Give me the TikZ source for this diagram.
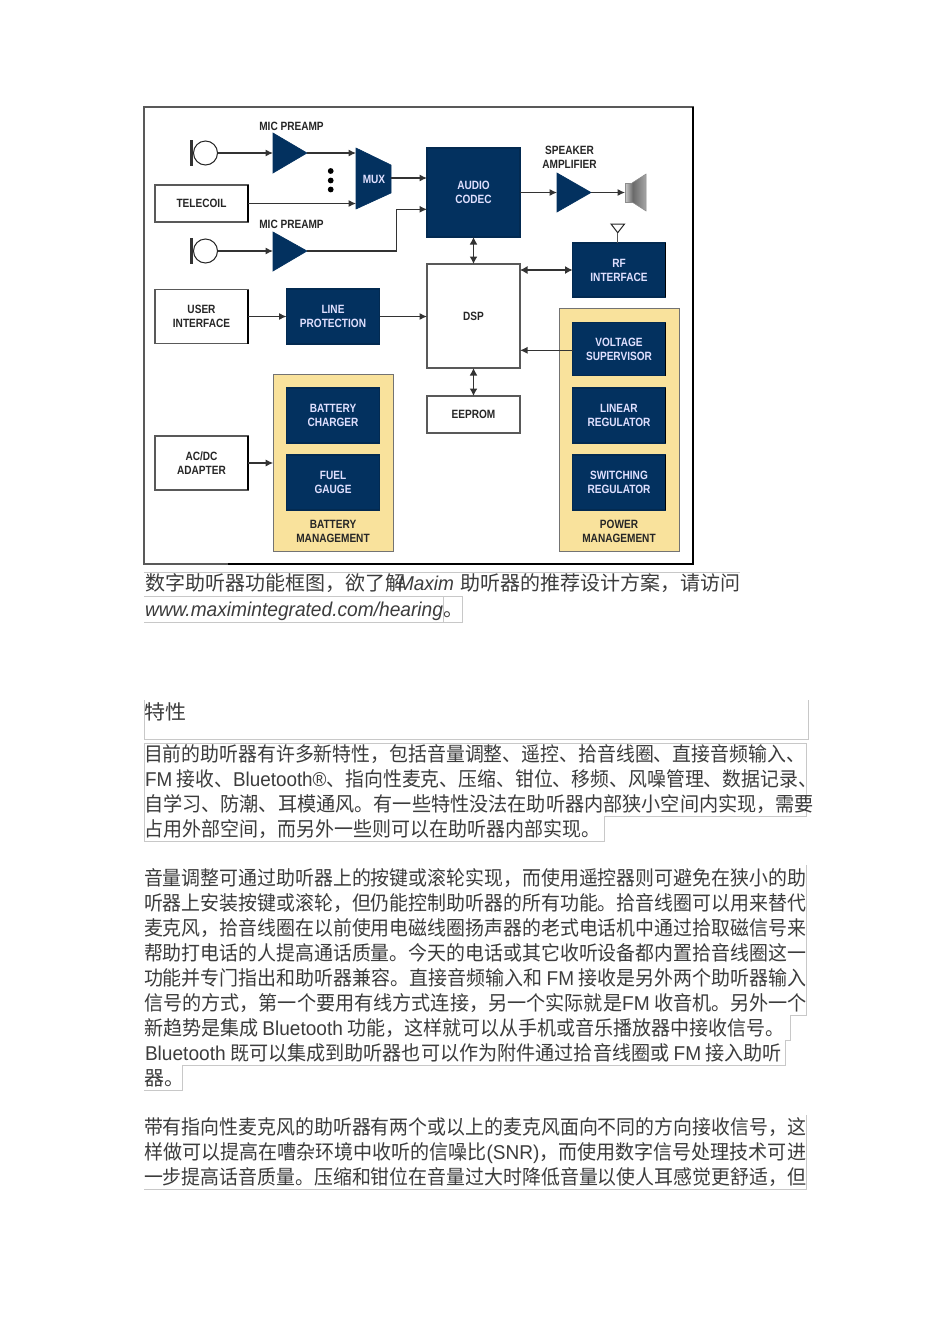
\documentclass[tikz,border=0pt]{standalone}
\usepackage{fontspec}
\usepackage{graphicx}
\usetikzlibrary{arrows.meta}
\setmainfont{Noto Sans CJK SC}
\newfontfamily\latf{Liberation Sans}
\newfontfamily\diaf[FakeStretch=0.84]{Liberation Sans}
\definecolor{navy}{HTML}{03315F}
\definecolor{panel}{HTML}{F9E29C}
\definecolor{ink}{HTML}{3C3C3C}
\definecolor{rulec}{HTML}{C8C8C8}
\newcommand\la[1]{{\latf #1}}
\newcommand\lai[1]{{\latf\itshape #1}}
\newcommand\tln[5]{\node[txt] (#1) at (#2,#3+7) {\resizebox{#4pt}{\height}{#5}};}
\tikzset{
  txt/.style={anchor=base west,inner sep=0pt,outer sep=0pt,text=ink,font=\fontsize{20}{24}\selectfont},
  bx/.style={draw=#1,line width=1.5pt,inner sep=0pt,outer sep=0pt,align=center,font=\diaf\bfseries\fontsize{12}{14}\selectfont},
  wbox/.style={bx=black!65,fill=white,text=black!85},
  nbox/.style={bx=navy!85!black,fill=navy,text=white!88!blue},
  pan/.style={draw=black!55,line width=1pt,fill=panel,inner sep=0pt,outer sep=0pt},
  amp/.style={fill=navy,draw=navy,line width=.6pt},
  lab/.style={inner sep=0pt,align=center,text=black!85,font=\diaf\bfseries\fontsize{12}{14}\selectfont},
  con/.style={draw=black!80,line width=1.1pt,-{Latex[length=7.5pt,width=7pt]}},
  dcon/.style={draw=black!80,line width=1.4pt,{Latex[length=7.5pt,width=8pt]}-{Latex[length=7.5pt,width=8pt]}},
  edge/.style={draw=black,line width=1.6pt},
  gl/.style={draw=rulec,line width=.7pt}
}
\begin{document}
\begin{tikzpicture}[x=1pt,y=-1pt]
\useasboundingbox (0,0) rectangle (950,1344);
\fill[white] (0,0) rectangle (950,1344);
% outer frame
\draw[draw=black!65,line width=1.2pt,fill=white] (144,107) rectangle (693,564);
\draw[black,line width=1.8pt] (693,107) -- (693,564) -- (228,564);
% microphones
\foreach \nm/\yy in {m1/153,m2/251}{
  \fill[black!80] (190,\yy-13) rectangle (193,\yy+13);
  \node[circle,draw=black!85,fill=white,line width=1pt,minimum size=24pt,inner sep=0pt,outer sep=0pt] (\nm) at (205.5,\yy) {};
}
% amplifiers
\coordinate (a1i) at (273,153); \coordinate (a1o) at (307,153);
\coordinate (a2i) at (273,251); \coordinate (a2o) at (307,251);
\coordinate (a3i) at (557,192.5); \coordinate (a3o) at (591,192.5);
\draw[amp] (273,133) -- (307,153) -- (273,173) -- cycle;
\draw[amp] (273,232) -- (307,251) -- (273,271) -- cycle;
\draw[amp] (557,173) -- (591,192.5) -- (557,212) -- cycle;
\node[lab] (l1) at (291.5,126.5) {MIC PREAMP};
\node[lab] (l2) at (291.5,224.5) {MIC PREAMP};
\node[lab] (l3) at (569.5,157.5) {SPEAKER\\AMPLIFIER};
% mux
\draw[amp] (356,148) -- (391,165) -- (391,193) -- (356,209) -- cycle;
\node[lab,text=white!88!blue] (mux) at (374,179.5) {MUX};
\coordinate (muxa) at (356,153); \coordinate (muxb) at (356,204); \coordinate (muxo) at (391,178);
\foreach \yy in {171,180.5,189.5}{\fill[black] (330.7,\yy) circle (2.9pt);}
% boxes
\node[wbox,minimum width=93pt,minimum height=37pt] (tele) at (201.5,203.5) {TELECOIL};
\node[wbox,minimum width=93pt,minimum height=54pt] (user) at (201.5,316.5) {USER\\INTERFACE};
\node[wbox,minimum width=93pt,minimum height=54pt] (acdc) at (201.5,463) {AC/DC\\ADAPTER};
\node[nbox,minimum width=93pt,minimum height=55pt] (line) at (333,316.5) {LINE\\PROTECTION};
\node[nbox,minimum width=93pt,minimum height=89pt] (codec) at (473.5,192.5) {AUDIO\\CODEC};
\node[wbox,minimum width=93pt,minimum height=104pt] (dsp) at (473.5,316) {DSP};
\node[wbox,minimum width=93pt,minimum height=37pt] (eeprom) at (473.5,414.5) {EEPROM};
\node[nbox,minimum width=93pt,minimum height=54pt] (rf) at (619,270) {RF\\INTERFACE};
% panels
\node[pan,minimum width=120pt,minimum height=177.5pt] (batp) at (333.2,463) {};
\node[pan,minimum width=120pt,minimum height=243.5pt] (powp) at (619,430) {};
\node[nbox,minimum width=93pt,minimum height=55pt] (chg) at (333,415.5) {BATTERY\\CHARGER};
\node[nbox,minimum width=93pt,minimum height=55pt] (fuel) at (333,482.5) {FUEL\\GAUGE};
\node[nbox,minimum width=93pt,minimum height=53pt] (volt) at (619,349.2) {VOLTAGE\\SUPERVISOR};
\node[nbox,minimum width=93pt,minimum height=55pt] (lin) at (619,415.5) {LINEAR\\REGULATOR};
\node[nbox,minimum width=93pt,minimum height=55pt] (sw) at (619,482.5) {SWITCHING\\REGULATOR};
\node[lab] (bm) at (333,531.5) {BATTERY\\MANAGEMENT};
\node[lab] (pm) at (619,531.5) {POWER\\MANAGEMENT};
\foreach \nm in {tele,user,acdc,rf,volt,lin,sw}{
  \draw[edge] (\nm.north east) -- (\nm.south east);
}
% speaker
\coordinate (spk) at (625,192.5);
\shade[left color=black!20,right color=black!55,draw=black!45,line width=.5pt] (625,183) rectangle (632,202);
\shade[left color=black!60,right color=black!35,draw=black!45,line width=.5pt] (632,183) -- (646,174) -- (646,211) -- (632,202) -- cycle;
% antenna
\coordinate (ant) at (617.7,232.7);
\draw[draw=black!85,line width=1pt,fill=white] (611,224) -- (624.5,224) -- (ant) -- cycle;
\draw[draw=black!65,line width=1.4pt] (ant) -- (rf.north -| ant);
% connectors
\draw[con] (m1) -- (a1i);
\draw[con] (a1o) -- (muxa);
\draw[con] (tele.east) -- (muxb |- tele.east);
\draw[con] (m2) -- (a2i);
\draw[con] (a2o) -- (396.7,251) -- (396.7,209.3) -- (codec.west |- 0,209.3);
\draw[con] (muxo) -- (codec.west |- muxo);
\draw[con] (codec.east |- a3i) -- (a3i);
\draw[con] (a3o) -- (spk);
\draw[dcon] (codec.south) -- (dsp.north);
\draw[dcon,line width=1.1pt] (rf.west) -- (dsp.east |- rf.west);
\draw[con] (user.east) -- (line.west);
\draw[con] (line.east) -- (dsp.west |- line.east);
\draw[con] (volt.west |- 0,350.3) -- (dsp.east |- 0,350.3);
\draw[dcon] (dsp.south) -- (eeprom.north);
\draw[con] (acdc.east) -- (batp.west);
% thin rules
\draw[gl] (144,572) -- (740,572);
\draw[gl] (144,596) -- (462,596) -- (462,622) -- (144,622);
\draw[gl] (443,596) -- (443,622);
\draw[gl] (144,700) -- (144,739) -- (808,739) -- (808,700);
\draw[gl] (144,743) -- (806,743) -- (806,816) -- (604,816) -- (604,841) -- (144,841) -- cycle;
\draw[gl] (806,865) -- (806,1015) -- (790,1015) -- (790,1040) -- (785,1040) -- (785,1065) -- (182,1065) -- (182,1090) -- (144,1090);
\draw[gl] (806,1115) -- (806,1189) -- (144,1189);
% caption
\tln{c1}{145}{583}{260}{数字助听器功能框图，欲了解}
\tln{c2}{398}{583}{56}{\lai{Maxim}}
\tln{c3}{460}{583}{280}{助听器的推荐设计方案，请访问}
\tln{c4}{145}{609}{298}{\lai{www.maximintegrated.com/hearing}}
\tln{c5}{443}{609}{20}{。}
\tln{h1}{144}{712}{42}{特性}
% paragraph 1
\tln{p1}{144}{754}{661}{目前的助听器有许多新特性，包括音量调整、遥控、拾音线圈、直接音频输入、}
\tln{p2}{145}{779}{672}{\la{FM} 接收、\la{Bluetooth®}、指向性麦克、压缩、钳位、移频、风噪管理、数据记录、}
\tln{p3}{144}{804}{670}{自学习、防潮、耳模通风。有一些特性没法在助听器内部狭小空间内实现，需要}
\tln{p4}{144}{829}{456}{占用外部空间，而另外一些则可以在助听器内部实现。}
% paragraph 2
\tln{q1}{144}{878}{662}{音量调整可通过助听器上的按键或滚轮实现，而使用遥控器则可避免在狭小的助}
\tln{q2}{144}{903}{662}{听器上安装按键或滚轮，但仍能控制助听器的所有功能。拾音线圈可以用来替代}
\tln{q3}{144}{928}{662}{麦克风，拾音线圈在以前使用电磁线圈扬声器的老式电话机中通过拾取磁信号来}
\tln{q4}{144}{953}{662}{帮助打电话的人提高通话质量。今天的电话或其它收听设备都内置拾音线圈这一}
\tln{q5}{144}{978}{662}{功能并专门指出和助听器兼容。直接音频输入和 \la{FM} 接收是另外两个助听器输入}
\tln{q6}{144}{1003}{663}{信号的方式，第一个要用有线方式连接，另一个实际就是\la{FM} 收音机。另外一个}
\tln{q7}{144}{1028}{641}{新趋势是集成 \la{Bluetooth} 功能，这样就可以从手机或音乐播放器中接收信号。}
\tln{q8}{145}{1053}{637}{\la{Bluetooth} 既可以集成到助听器也可以作为附件通过拾音线圈或 \la{FM} 接入助听}
\tln{q9}{144}{1078}{40}{器。}
% paragraph 3
\tln{r1}{144}{1127}{662}{带有指向性麦克风的助听器有两个或以上的麦克风面向不同的方向接收信号，这}
\tln{r2}{144}{1152}{662}{样做可以提高在嘈杂环境中收听的信噪比\la{(SNR)}，而使用数字信号处理技术可进}
\tln{r3}{144}{1177}{662}{一步提高话音质量。压缩和钳位在音量过大时降低音量以使人耳感觉更舒适，但}
\end{tikzpicture}
\end{document}
